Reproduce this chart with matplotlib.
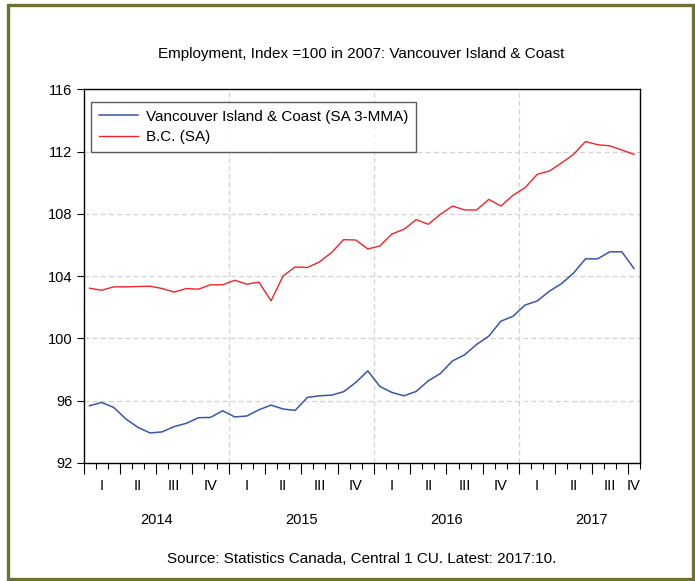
import matplotlib
matplotlib.use("Agg")
import matplotlib.pyplot as plt
import matplotlib.transforms as mtransforms
from matplotlib.patches import Rectangle
import numpy as np

plt.rcParams['font.family'] = ['Liberation Sans', 'DejaVu Sans']

# Monthly data, Jan 2014 .. Oct 2017
start_year = 2014
n_months = 46
vi_coast = [95.68, 95.89, 95.57, 94.83, 94.29, 93.93, 94.00, 94.34, 94.55, 94.91,
            94.93, 95.36, 94.96, 95.02, 95.42, 95.72, 95.47, 95.38, 96.21, 96.32,
            96.36, 96.58, 97.17, 97.92, 96.92, 96.53, 96.32, 96.60, 97.28, 97.75,
            98.56, 98.95, 99.62, 100.15, 101.11, 101.43, 102.15, 102.41, 103.03, 103.52,
            104.20, 105.12, 105.12, 105.57, 105.57, 104.50]
bc = [103.23, 103.10, 103.32, 103.32, 103.34, 103.36, 103.21, 102.98, 103.21, 103.17,
      103.45, 103.45, 103.74, 103.49, 103.62, 102.42, 104.02, 104.60, 104.56, 104.92,
      105.52, 106.35, 106.33, 105.75, 105.95, 106.72, 107.02, 107.64, 107.34, 107.98,
      108.51, 108.26, 108.26, 108.94, 108.51, 109.20, 109.69, 110.55, 110.76, 111.27,
      111.83, 112.66, 112.45, 112.38, 112.11, 111.83]
series_names = ["Vancouver Island & Coast (SA 3-MMA)", "B.C. (SA)"]
quarter_labels = ["I", "II", "III", "IV"]
years = [2014, 2015, 2016, 2017]
y_ticks = [92, 96, 100, 104, 108, 112, 116]

title = "Employment, Index =100 in 2007: Vancouver Island & Coast"
source = "Source: Statistics Canada, Central 1 CU. Latest: 2017:10."

W, H = 695, 581
fig = plt.figure(figsize=(W / 100, H / 100), dpi=100)
ax = fig.add_axes([83.5 / W, 1 - 463 / H, (640 - 83.5) / W, (463 - 89.5) / H])

x = np.arange(n_months) + 0.5
blue = '#3A55AA'
red = '#F0242C'
ax.plot(x, vi_coast, color=blue, lw=1.1, label=series_names[0])
ax.plot(x, bc, color=red, lw=1.0, label=series_names[1])

ax.set_xlim(0, n_months)
ax.set_ylim(92, 116)
ax.set_yticks(y_ticks)
ax.set_yticklabels([str(v) for v in y_ticks], fontsize=10.5)
ax.tick_params(axis='y', direction='out', length=5, width=0.8, pad=3)

# month ticks: minor every month, major at quarter boundaries
ax.set_xticks(np.arange(0, n_months + 1, 3))
ax.set_xticks(np.arange(0, n_months + 1, 1), minor=True)
ax.set_xticklabels([])
ax.tick_params(axis='x', which='major', direction='out', length=8, width=0.8)
ax.tick_params(axis='x', which='minor', direction='out', length=4, width=0.8)

for s in ax.spines.values():
    s.set_linewidth(1.0)
    s.set_color('black')

# grid
for v in y_ticks[1:-1]:
    ax.axhline(v, color='#d2d2d2', lw=0.9, ls=(0, (4, 2.5)), zorder=0)
for yb in range(1, len(years)):
    ax.axvline(12 * yb, color='#d2d2d2', lw=0.9, ls=(0, (4, 2.5)), zorder=0)

trans = mtransforms.blended_transform_factory(ax.transData, ax.transAxes)
ax_h_px = 463 - 89.5
for yi, yr in enumerate(years):
    for q in range(4):
        s0 = yi * 12 + q * 3
        if s0 >= n_months:
            break
        s1 = min(s0 + 3, n_months)
        xc = (s0 + s1) / 2
        ax.text(xc, -23 / ax_h_px, quarter_labels[q], transform=trans,
                ha='center', va='center', fontsize=10.5)
    xc = yi * 12 + 6
    ax.text(xc, -57 / ax_h_px, str(yr), transform=trans,
            ha='center', va='center', fontsize=10.5)

leg = ax.legend(loc='upper left', bbox_to_anchor=(7.5 / (640 - 83.5), 1 - 12.5 / ax_h_px),
                frameon=True, fancybox=False, fontsize=11, handlelength=2.6,
                handletextpad=0.5, borderpad=0.5, labelspacing=0.42, borderaxespad=0)
leg.get_frame().set_edgecolor('#333333')
leg.get_frame().set_linewidth(1.0)

fig.text(361.5 / W, 1 - 54 / H, title, ha='center', va='center', fontsize=11)
fig.text(361.5 / W, 1 - 559 / H, source, ha='center', va='center', fontsize=11)

# olive frame around the figure
fig.patches.append(Rectangle((7.5 / W, 1 - 578.5 / H), (693 - 7.5) / W, (578.5 - 4.5) / H,
                             transform=fig.transFigure, fill=False,
                             edgecolor='#6F7131', linewidth=2.4, zorder=10))

fig.savefig('out.png', dpi=100)
